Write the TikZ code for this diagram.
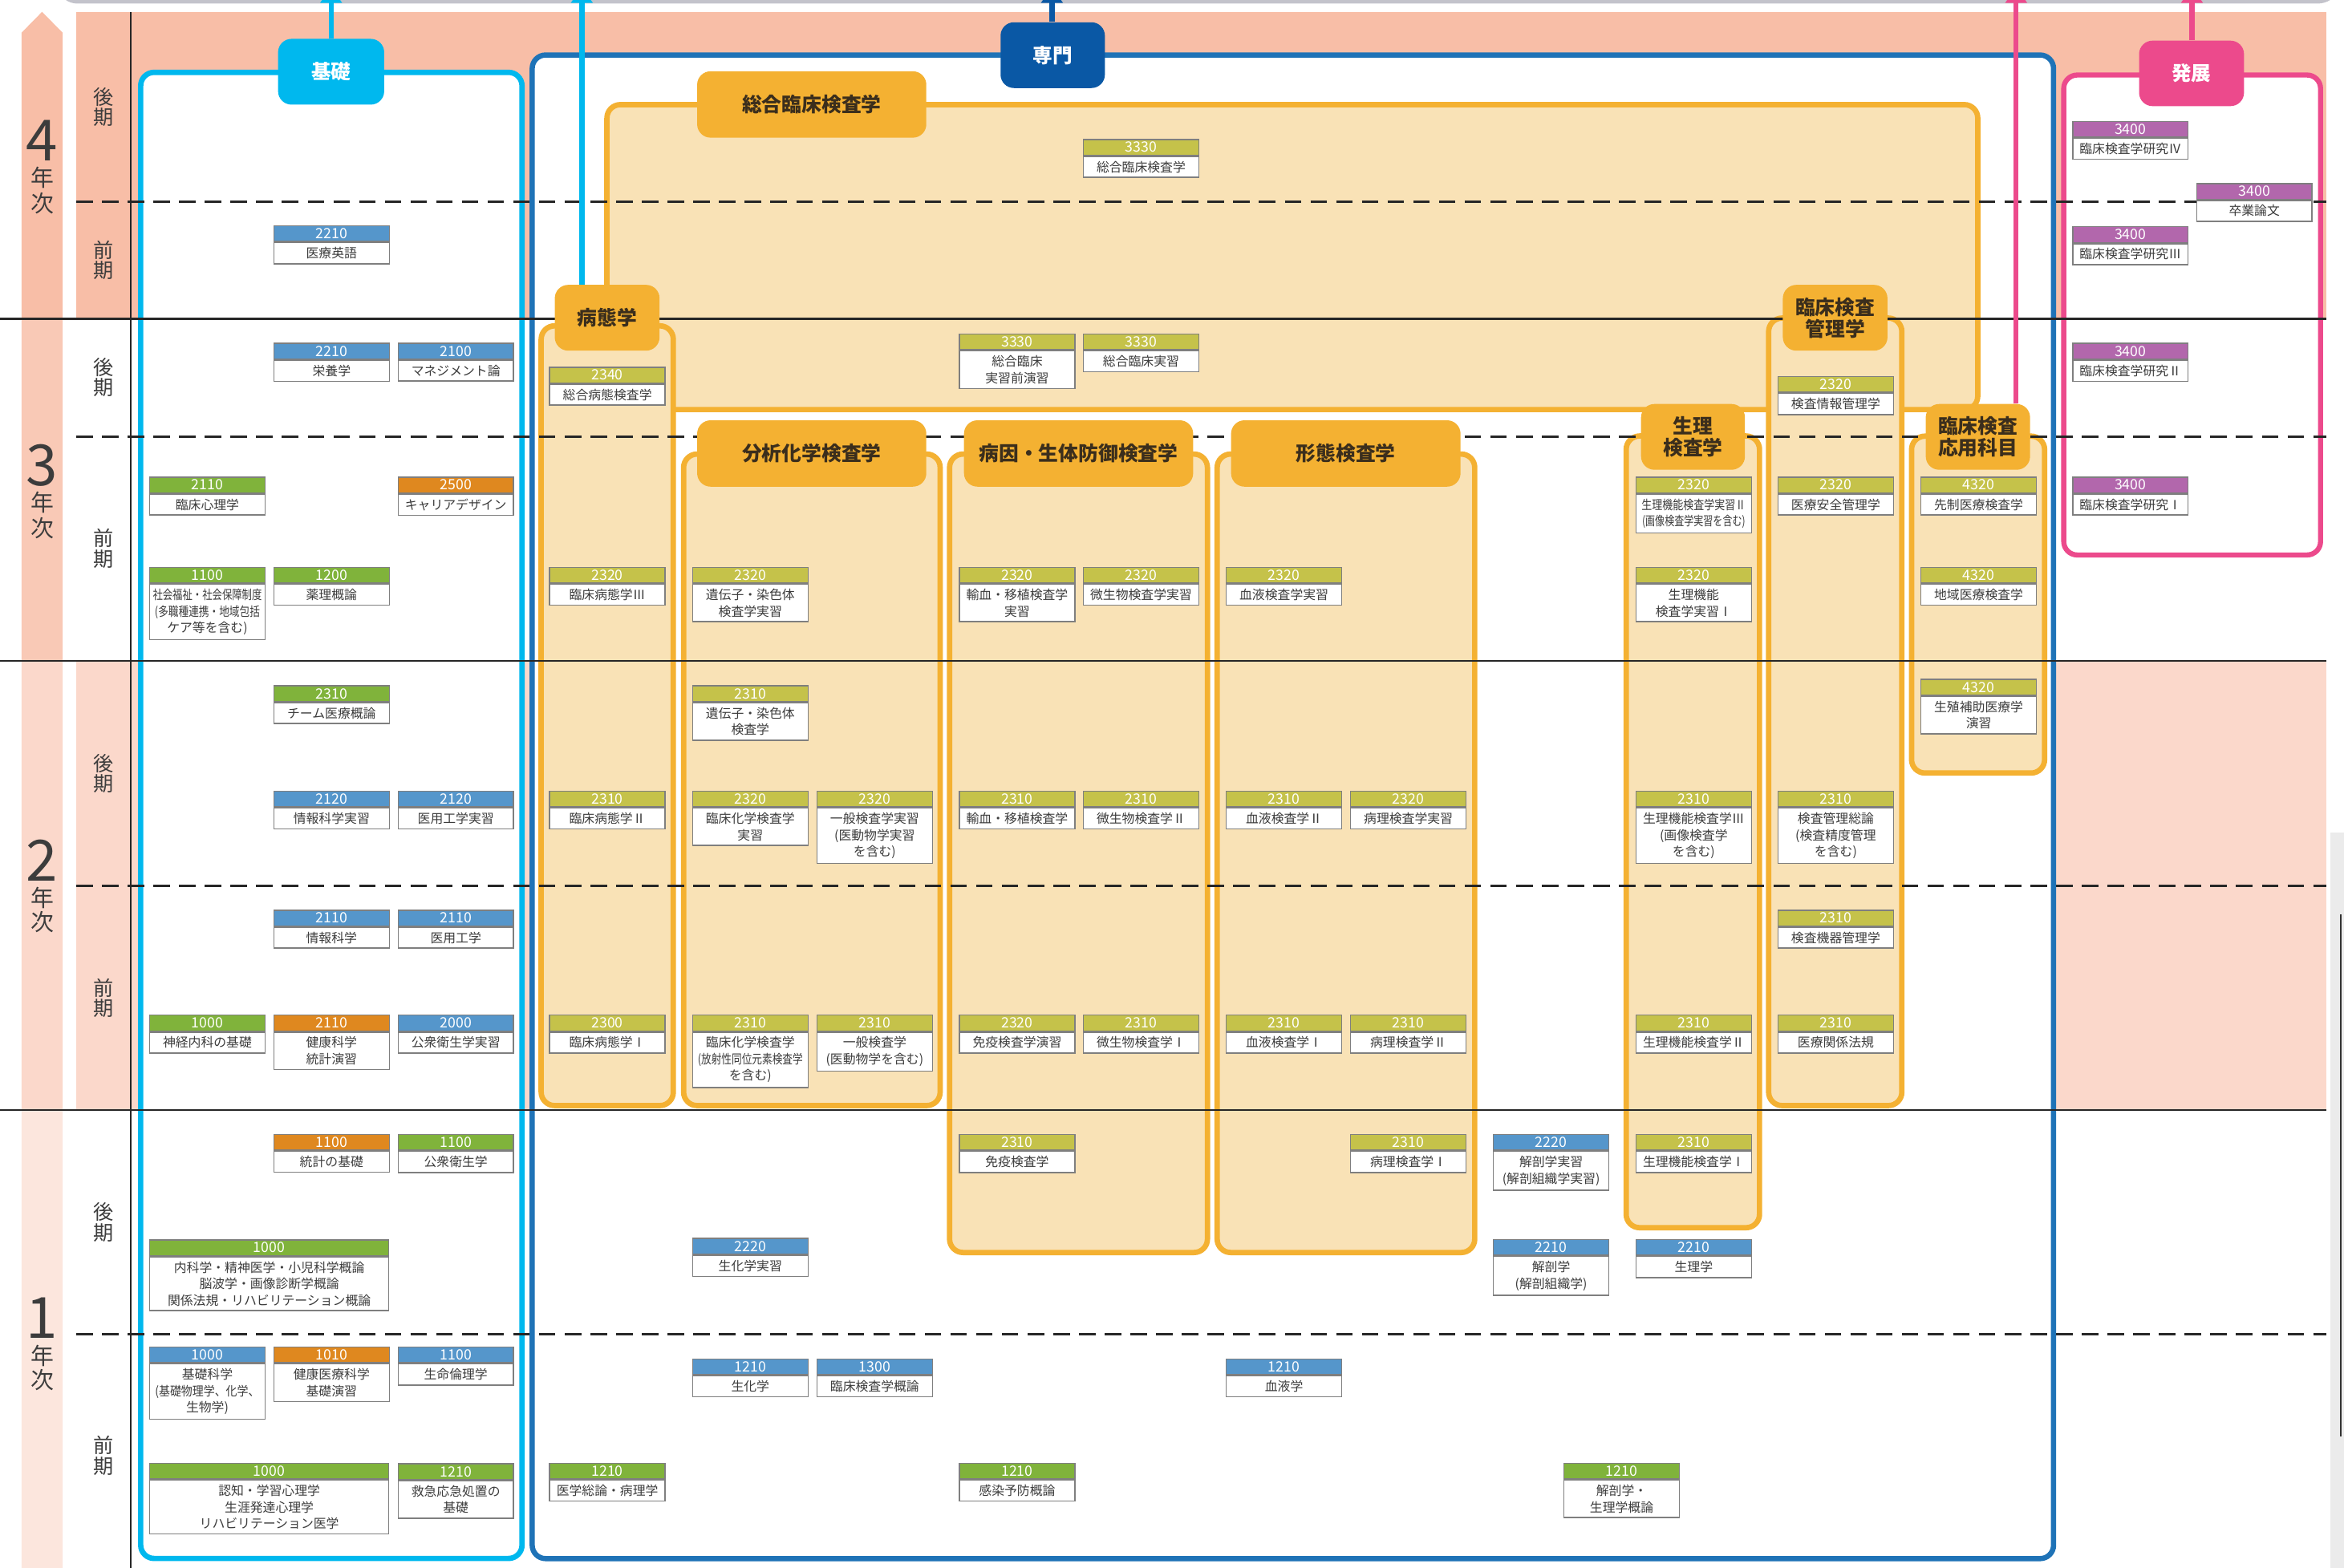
\documentclass[tikz,border=0pt]{standalone}
\usepackage{fontspec}
\setmainfont{Noto Sans CJK JP}
\usetikzlibrary{arrows.meta}
\definecolor{cKiso}{HTML}{00B8EE}
\definecolor{cSen}{HTML}{1F73B7}
\definecolor{cSenL}{HTML}{0A58A5}
\definecolor{cHat}{HTML}{EC4A8C}
\definecolor{cOr}{HTML}{F4B132}
\definecolor{cOrF}{HTML}{F9E2B6}
\definecolor{cBandA}{HTML}{F8BEA7}
\definecolor{cBandB}{HTML}{FBD8CB}
\definecolor{yA}{HTML}{F8BEA7}
\definecolor{yB}{HTML}{F9C9B6}
\definecolor{yC}{HTML}{FBD8CB}
\definecolor{yD}{HTML}{FCE6DD}
\definecolor{hB}{HTML}{5596CB}
\definecolor{hG}{HTML}{80B33B}
\definecolor{hO}{HTML}{DF881F}
\definecolor{hY}{HTML}{C5C24A}
\definecolor{hP}{HTML}{B267AC}
\definecolor{cTxt}{HTML}{3C3C3C}
\definecolor{cLbl}{HTML}{3B2E1C}
\definecolor{cBoxGray}{HTML}{7F7F7F}
\definecolor{cTop}{HTML}{C3C3CB}
\definecolor{cPanel}{HTML}{EBEBEB}
\newcommand\sq[1]{\addfontfeature{FakeStretch=#1}}
\newcommand\tightls{\lineskiplimit-10pt\relax}
\newcommand\semfont{\fontsize{13.5}{13.6}\selectfont\tightls}
\tikzset{
  hdr/.style={draw=cBoxGray, line width=0.8pt, minimum height=10.5pt, inner sep=0pt,
    text=white, font=\fontsize{9.5}{10}\selectfont, anchor=north west},
  bdy/.style={draw=cBoxGray, line width=0.8pt, fill=white, inner xsep=1pt, inner ysep=3.1pt,
    align=center, text=cTxt, font=\fontsize{8.5}{11}\selectfont, anchor=north},
  bigbox/.style={fill=white, rounded corners=9pt, inner sep=0pt},
  gbox/.style={draw=cOr, fill=cOrF, line width=3.6pt, rounded corners=9pt, inner sep=0pt},
  glab/.style={fill=cOr, rounded corners=9pt, inner sep=0pt, text=cLbl, align=center,
    font=\bfseries\fontsize{13.3}{14.5}\selectfont},
  tlab/.style={rounded corners=9pt, inner sep=0pt, text=white,
    font=\bfseries\fontsize{13.2}{14}\selectfont},
  hline/.style={draw=black!85, line width=1.4pt},
  dline/.style={draw=black!85, line width=1.6pt, dash pattern=on 11pt off 6.2pt},
  semlab/.style={inner sep=0pt, align=center, text=cTxt, font=\semfont},
  ydig/.style={inner sep=0pt, text=cTxt, font=\fontsize{38}{40}\selectfont},
  ychar/.style={inner sep=0pt, text=cTxt, font=\fontsize{15.5}{16}\selectfont},
  conn/.style={line width=3.5pt, -{Triangle[width=14pt,length=11pt]}}
}
\newcommand\crs[7][77.2]{%
  \node[hdr, fill=#5, minimum width=#1pt] (#2h) at (#3,#4) {#6};
  \node[bdy, minimum width=#1pt] (#2) at (#2h.south) {#7};
}
\begin{document}
\begin{tikzpicture}[x=1pt,y=-1pt]
\useasboundingbox (0,0) rectangle (1568,1049);
% top grey line
\draw[cTop, line width=2.4pt] (40,-8) to[out=-75,in=180] (52,1.2) -- (1550,1.2) to[out=0,in=-105] (1563,-8);
% bands
\fill[cBandA] (51,7.9) rectangle (1556,213.3);
\fill[cBandB] (51,442.2) rectangle (1556,742.7);
\begin{scope}
\clip (14.4,1049) -- (14.4,21.9) -- (28.15,7.9) -- (41.9,21.9) -- (41.9,1049) -- cycle;
\fill[yA] (0,0) rectangle (60,213.3);
\fill[yB] (0,213.3) rectangle (60,442.2);
\fill[yC] (0,442.2) rectangle (60,742.7);
\fill[yD] (0,742.7) rectangle (60,1049);
\end{scope}
\fill[cPanel] (1559,557) rectangle (1568,1049);
\draw[black!80, line width=1pt] (1566,612) -- (1566,961);
% big boxes
\node[bigbox, draw=cKiso, line width=3.6pt, minimum width=255.1pt, minimum height=994.3pt] (bxKiso) at (221.65,545.55) {};
\node[bigbox, draw=cSen, line width=3.5pt, minimum width=1017.7pt, minimum height=1006pt] (bxSen) at (864.85,539.8) {};
\node[bigbox, draw=cHat, line width=3.4pt, minimum width=171.8pt, minimum height=321.1pt] (bxHat) at (1466.4,210.75) {};
% group boxes
\node[gbox, minimum width=917pt, minimum height=204pt] (gSogo) at (864.5,172) {};
\node[gbox, minimum width=88.4pt, minimum height=521.7pt] (gByo) at (406.2,478.85) {};
\node[gbox, minimum width=171.6pt, minimum height=435.9pt] (gBun) at (543.1,521.75) {};
\node[gbox, minimum width=172.5pt, minimum height=534.2pt] (gBoe) at (721.45,570.9) {};
\node[gbox, minimum width=172.3pt, minimum height=534.2pt] (gKei) at (900.35,570.9) {};
\node[gbox, minimum width=89.2pt, minimum height=529.7pt] (gSei) at (1132.4,556.55) {};
\node[gbox, minimum width=89.1pt, minimum height=526.9pt] (gKan) at (1227.65,476.25) {};
\node[gbox, minimum width=89pt, minimum height=225.4pt] (gOyo) at (1323.2,404.5) {};
% grid lines
\foreach \yy in {213.3,442.2,742.7} \draw[hline] (0,\yy) -- (1556,\yy);
\foreach \yy in {135,292,592.5,892.7} \draw[dline] (51,\yy) -- (1556,\yy);
\draw[black!85, line width=1.2pt] (87.5,7.9) -- (87.5,1049);
% group labels
\node[glab, minimum width=153.3pt, minimum height=44.4pt] (lSogo) at (543,69.9) {総合臨床検査学};
\node[glab, minimum width=70.1pt, minimum height=44pt] (lByo) at (406.15,212.6) {病態学};
\node[glab, minimum width=153.3pt, minimum height=44.4pt] (lBun) at (543,303.4) {分析化学検査学};
\node[glab, minimum width=153.3pt, minimum height=44.4pt] (lBoe) at (721.5,303.4) {病因・生体防御検査学};
\node[glab, minimum width=153.5pt, minimum height=44.4pt] (lKei) at (900.25,303.4) {形態検査学};
\node[glab, minimum width=69.5pt, minimum height=44pt] (lSei) at (1132.5,292.3) {生理\\検査学};
\node[glab, minimum width=70pt, minimum height=44pt] (lKan) at (1227.6,212.6) {臨床検査\\管理学};
\node[glab, minimum width=69.8pt, minimum height=44pt] (lOyo) at (1323.1,292.3) {臨床検査\\応用科目};
% top labels
\node[tlab, fill=cKiso, minimum width=71pt, minimum height=44pt] (lKiso) at (221.5,48) {基礎};
\node[tlab, fill=cSenL, minimum width=69.8pt, minimum height=44pt] (lSen) at (704.2,36.9) {専門};
\node[tlab, fill=cHat, minimum width=70.2pt, minimum height=43.8pt] (lHat) at (1466,49.1) {発展};
% connectors
\coordinate (tKiso) at (221.5,-9);
\coordinate (tKiso2) at (389.2,-9);
\coordinate (tSen) at (703.7,-9);
\coordinate (tHat) at (1466.3,-9);
\coordinate (tHat2) at (1348.7,-9);
\draw[conn, cKiso, line width=3pt] (tKiso |- lKiso.north) -- (tKiso);
\draw[conn, cKiso, line width=4pt] (tKiso2 |- lByo.north) -- (tKiso2);
\draw[conn, cSenL] (tSen |- lSen.north) -- (tSen);
\draw[conn, cHat, line width=3.4pt] (tHat |- lHat.north) -- (tHat);
\draw[conn, cHat, line width=3.2pt] (tHat2 |- lOyo.north) -- (tHat2);
% year labels
\node[ydig] (y4d) at (28.2,94) {4};
\node[ychar] (y4n) at (28.2,119) {年};
\node[ychar] (y4j) at (28.2,136) {次};
\node[ydig] (y3d) at (28.2,311.5) {3};
\node[ychar] (y3n) at (28.2,336) {年};
\node[ychar] (y3j) at (28.2,353.6) {次};
\node[ydig] (y2d) at (28.2,575.6) {2};
\node[ychar] (y2n) at (28.2,600.8) {年};
\node[ychar] (y2j) at (28.2,617) {次};
\node[ydig] (y1d) at (28.2,882) {1};
\node[ychar] (y1n) at (28.2,907.3) {年};
\node[ychar] (y1j) at (28.2,923.5) {次};
% semester labels
\node[semlab] (s4b) at (69,71.5) {後\\期};
\node[semlab] (s4a) at (69,174) {前\\期};
\node[semlab] (s3b) at (69,252.6) {後\\期};
\node[semlab] (s3a) at (69,367) {前\\期};
\node[semlab] (s2b) at (69,517.5) {後\\期};
\node[semlab] (s2a) at (69,667.6) {前\\期};
\node[semlab] (s1b) at (69,817.7) {後\\期};
\node[semlab] (s1a) at (69,974) {前\\期};
% ---- courses: 4th year
\crs{rIV}{1386.1}{80.8}{hP}{3400}{臨床検査学研究Ⅳ}
\crs{sgA}{724.3}{92.9}{hY}{3330}{総合臨床検査学}
\crs{sotsu}{1469}{122.4}{hP}{3400}{卒業論文}
\crs{iryoei}{182.8}{150.7}{hB}{2210}{医療英語}
\crs{rIII}{1386.1}{151.3}{hP}{3400}{臨床検査学研究Ⅲ}
% 3rd year late
\crs{eiyo}{182.8}{229.3}{hB}{2210}{栄養学}
\crs{manage}{265.9}{229.3}{hB}{2100}{マネジメント論}
\crs{sobyo}{367.3}{245.3}{hY}{2340}{総合病態検査学}
\crs{sgzen}{641.4}{223.1}{hY}{3330}{総合臨床\\実習前演習}
\crs{sgjis}{724.3}{223.1}{hY}{3330}{総合臨床実習}
\crs{kjoho}{1189}{251.5}{hY}{2320}{検査情報管理学}
\crs{rII}{1386.1}{229.3}{hP}{3400}{臨床検査学研究Ⅱ}
% 3rd year early
\crs{rinshin}{99.7}{318.8}{hG}{2110}{臨床心理学}
\crs{career}{265.9}{318.8}{hO}{2500}{キャリアデザイン}
\crs{seiriJB}{1094}{318.8}{hY}{2320}{{\sq{0.82}生理機能検査学実習Ⅱ}\\{\sq{0.76}(画像検査学実習を含む)}}
\crs{iryoan}{1189}{318.8}{hY}{2320}{医療安全管理学}
\crs{sensei}{1284.6}{318.8}{hY}{4320}{先制医療検査学}
\crs{rI}{1386.1}{318.8}{hP}{3400}{臨床検査学研究Ⅰ}
\crs{fukushi}{99.7}{379.2}{hG}{1100}{{\sq{0.78}社会福祉・社会保障制度}\\{\sq{0.8}(多職種連携・地域包括}\\ケア等を含む)}
\crs{yakuri}{182.8}{379.2}{hG}{1200}{薬理概論}
\crs{rbC}{367.3}{379.2}{hY}{2320}{臨床病態学Ⅲ}
\crs{idenj}{462.9}{379.2}{hY}{2320}{遺伝子・染色体\\検査学実習}
\crs{yuketsuj}{641.4}{379.2}{hY}{2320}{輸血・移植検査学\\実習}
\crs{biseij}{724.3}{379.2}{hY}{2320}{微生物検査学実習}
\crs{ketsuj}{819.9}{379.2}{hY}{2320}{血液検査学実習}
\crs{seiriJA}{1094}{379.2}{hY}{2320}{生理機能\\検査学実習Ⅰ}
\crs{chiiki}{1284.6}{379.2}{hY}{4320}{地域医療検査学}
% 2nd year late
\crs{team}{182.8}{458.4}{hG}{2310}{チーム医療概論}
\crs{iden}{462.9}{458.4}{hY}{2310}{遺伝子・染色体\\検査学}
\crs{seishoku}{1284.6}{454.1}{hY}{4320}{生殖補助医療学\\演習}
\crs{johoj}{182.8}{528.9}{hB}{2120}{情報科学実習}
\crs{iyoj}{265.9}{528.9}{hB}{2120}{医用工学実習}
\crs{rbB}{367.3}{528.9}{hY}{2310}{臨床病態学Ⅱ}
\crs{rinkaj}{462.9}{528.9}{hY}{2320}{臨床化学検査学\\実習}
\crs{ippanj}{546.1}{528.9}{hY}{2320}{一般検査学実習\\(医動物学実習\\を含む)}
\crs{yuketsu}{641.4}{528.9}{hY}{2310}{輸血・移植検査学}
\crs{biseiB}{724.3}{528.9}{hY}{2310}{微生物検査学Ⅱ}
\crs{ketsuB}{819.9}{528.9}{hY}{2310}{血液検査学Ⅱ}
\crs{byorij}{903.1}{528.9}{hY}{2320}{病理検査学実習}
\crs{seiriC}{1094}{528.9}{hY}{2310}{生理機能検査学Ⅲ\\(画像検査学\\を含む)}
\crs{kanri}{1189}{528.9}{hY}{2310}{検査管理総論\\(検査精度管理\\を含む)}
% 2nd year early
\crs{joho}{182.8}{608.6}{hB}{2110}{情報科学}
\crs{iyo}{265.9}{608.6}{hB}{2110}{医用工学}
\crs{kiki}{1189}{608.6}{hY}{2310}{検査機器管理学}
\crs{shinkei}{99.7}{678.8}{hG}{1000}{神経内科の基礎}
\crs{kenko}{182.8}{678.8}{hO}{2110}{健康科学\\統計演習}
\crs{koshuj}{265.9}{678.8}{hB}{2000}{公衆衛生学実習}
\crs{rbA}{367.3}{678.8}{hY}{2300}{臨床病態学Ⅰ}
\crs{rinka}{462.9}{678.8}{hY}{2310}{臨床化学検査学\\{\sq{0.8}(放射性同位元素検査学}\\を含む)}
\crs{ippan}{546.1}{678.8}{hY}{2310}{一般検査学\\(医動物学を含む)}
\crs{menekien}{641.4}{678.8}{hY}{2320}{免疫検査学演習}
\crs{biseiA}{724.3}{678.8}{hY}{2310}{微生物検査学Ⅰ}
\crs{ketsuA}{819.9}{678.8}{hY}{2310}{血液検査学Ⅰ}
\crs{byoriB}{903.1}{678.8}{hY}{2310}{病理検査学Ⅱ}
\crs{seiriB}{1094}{678.8}{hY}{2310}{生理機能検査学Ⅱ}
\crs{hoki}{1189}{678.8}{hY}{2310}{医療関係法規}
% 1st year late
\crs{tokei}{182.8}{758.6}{hO}{1100}{統計の基礎}
\crs{koshu}{265.9}{758.6}{hG}{1100}{公衆衛生学}
\crs{meneki}{641.4}{758.6}{hY}{2310}{免疫検査学}
\crs{byoriA}{903.1}{758.6}{hY}{2310}{病理検査学Ⅰ}
\crs{kaibouj}{998.6}{758.6}{hB}{2220}{解剖学実習\\(解剖組織学実習)}
\crs{seiriA}{1094}{758.6}{hY}{2310}{生理機能検査学Ⅰ}
\crs[160]{naika}{99.7}{829.1}{hG}{1000}{内科学・精神医学・小児科学概論\\脳波学・画像診断学概論\\関係法規・リハビリテーション概論}
\crs{seikaj}{462.9}{828.1}{hB}{2220}{生化学実習}
\crs{kaibou}{998.6}{829}{hB}{2210}{解剖学\\(解剖組織学)}
\crs{seirigaku}{1094}{829}{hB}{2210}{生理学}
% 1st year early
\crs{kisokagaku}{99.7}{900.9}{hB}{1000}{基礎科学\\{\sq{0.88}(基礎物理学、化学、}\\生物学)}
\crs{kenkoi}{182.8}{900.9}{hO}{1010}{健康医療科学\\基礎演習}
\crs{seimei}{265.9}{900.9}{hB}{1100}{生命倫理学}
\crs{seika}{462.9}{908.8}{hB}{1210}{生化学}
\crs{rgairon}{546.1}{908.8}{hB}{1300}{臨床検査学概論}
\crs{ketsueki}{819.9}{908.8}{hB}{1210}{血液学}
\crs[160]{ninchi}{99.7}{978.6}{hG}{1000}{認知・学習心理学\\生涯発達心理学\\リハビリテーション医学}
\crs{kyukyu}{265.9}{979}{hG}{1210}{救急応急処置の\\基礎}
\crs{igaku}{367.3}{978.6}{hG}{1210}{医学総論・病理学}
\crs{kansen}{641.4}{978.6}{hG}{1210}{感染予防概論}
\crs{kaiseiri}{1045.8}{978.6}{hG}{1210}{解剖学・\\生理学概論}
\end{tikzpicture}
\end{document}
